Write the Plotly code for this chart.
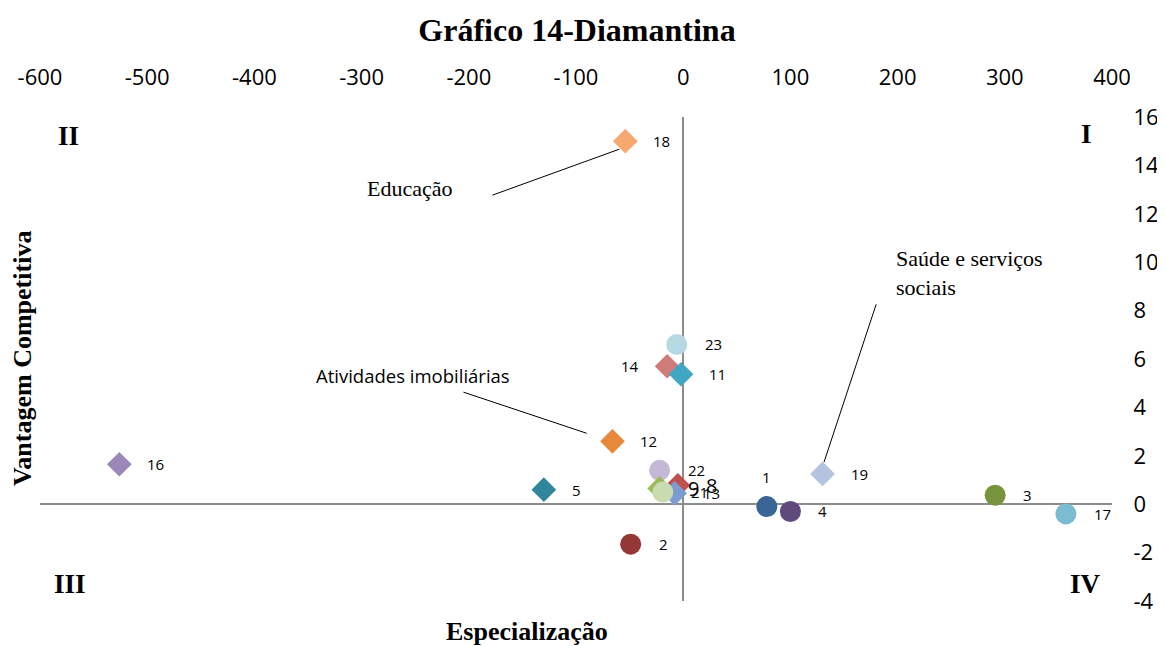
import plotly.graph_objects as go

# ================================ Dados ================================
setores = ['1', '2', '3', '4', '5', '8', '9', '11', '12', '13',
           '14', '16', '17', '18', '19', '21', '22', '23']
especializacao = [78, -49, 291, 100, -130, -5, -22, -2, -66, -8,
                  -15, -526, 357, -54, 130, -19, -22, -6]
vantagem = [-0.1, -1.65, 0.37, -0.3, 0.6, 0.78, 0.65, 5.37, 2.6, 0.45,
            5.7, 1.65, -0.4, 15.0, 1.25, 0.5, 1.4, 6.6]

x_ticks = [-600, -500, -400, -300, -200, -100, 0, 100, 200, 300, 400]
y_ticks = [-4, -2, 0, 2, 4, 6, 8, 10, 12, 14, 16]

# ================================ Estilos ================================
cores = {
    '1': '#3A6597', '2': '#953735', '3': '#77933C', '4': '#604A7B',
    '5': '#31859C', '8': '#C0504D', '9': '#9BBB59', '11': '#3FA7C4',
    '12': '#E8883A', '13': '#7C9CD0', '14': '#D07C7A', '16': '#9B87B8',
    '17': '#7BBCD3', '18': '#F7A870', '19': '#B4C4E0', '21': '#C9DBB0',
    '22': '#C4B8D6', '23': '#B5D8E3',
}
circulos = {'1', '2', '3', '4', '17', '21', '22', '23'}
# ordem de desenho (os últimos ficam por cima)
ordem = ['16', '5', '12', '18', '23', '14', '11', '2', '1', '4', '19', '3',
         '17', '22', '9', '8', '13', '21']
rotulo_esq = {'14'}
rotulo_cima = {'1'}
rotulo_grande = {'8', '9'}

SERIF = 'Liberation Serif'
SANS = 'Open Sans'

# a página tem 8px de margem no body: a figura é reduzida nessa medida
W, H = 1157, 638


def configure_quadrant_chart(fig, title):
    fig.update_layout(
        width=W,
        height=H,
        margin=dict(t=109, b=45, l=32, r=53),
        paper_bgcolor='white',
        plot_bgcolor='white',
        showlegend=False,
        title=dict(text='<b>' + title + '</b>', x=569 / W, xanchor='center',
                   y=1 - 22 / H, yanchor='middle', yref='container',
                   font=dict(family=SERIF, size=32, color='black')),
        xaxis=dict(range=[-600, 400], side='top', tickvals=x_ticks,
                   ticktext=[str(v) for v in x_ticks], automargin=False,
                   showgrid=False, showline=False, zeroline=True,
                   zerolinecolor='#8C8C8C', zerolinewidth=2,
                   ticks='outside', ticklen=22, tickcolor='rgba(0,0,0,0)',
                   tickfont=dict(family=SANS, size=22, color='black')),
        yaxis=dict(range=[-4, 16], side='right', tickvals=y_ticks,
                   ticktext=[str(v) for v in y_ticks], automargin=False,
                   showgrid=False, showline=False, zeroline=True,
                   zerolinecolor='#8C8C8C', zerolinewidth=2,
                   ticks='outside', ticklen=16, tickcolor='rgba(0,0,0,0)',
                   tickfont=dict(family=SANS, size=22, color='black')),
    )
    return fig


def grafico_diamantina():
    fig = go.Figure()
    anots = []
    for s in ordem:
        i = setores.index(s)
        x, y = especializacao[i], vantagem[i]
        circ = s in circulos
        fig.add_trace(go.Scatter(
            x=[x], y=[y], mode='markers', name=s,
            marker=dict(symbol='circle' if circ else 'diamond',
                        size=21 if circ else 19, color=cores[s],
                        line=dict(width=0)),
        ))
        a = dict(x=x, y=y, text=s, showarrow=False,
                 font=dict(family=SANS, size=20 if s in rotulo_grande else 15,
                           color='black'))
        if s in rotulo_cima:
            a.update(xanchor='center', yanchor='middle', yshift=30)
        elif s in rotulo_esq:
            a.update(xanchor='right', yanchor='middle', xshift=-26)
        else:
            a.update(xanchor='left', yanchor='middle', xshift=26)
        anots.append(a)

    # textos explicativos
    nota = dict(family=SERIF, size=22, color='black')
    anots += [
        dict(x=-255, y=13.05, text='Educação', showarrow=False, font=nota),
        dict(x=-252, y=5.3, text='Atividades imobiliárias', showarrow=False,
             font=dict(family=SANS, size=18.5, color='black')),
        dict(x=197, y=9.55, text='Saúde e serviços<br>sociais', showarrow=False,
             xanchor='left', align='left', font=nota),
    ]
    # quadrantes
    quad = dict(family=SERIF, size=27, color='black')
    for txt, qx, qy in [('II', -573, 15.2), ('I', 376.5, 15.3),
                        ('III', -572, -3.3), ('IV', 375.6, -3.3)]:
        anots.append(dict(x=qx, y=qy, text='<b>' + txt + '</b>',
                          showarrow=False, font=quad))
    # títulos dos eixos
    anots += [
        dict(xref='paper', yref='paper', x=0.454, y=-0.064,
             xanchor='center', yanchor='middle',
             text='<b>Especialização</b>', showarrow=False,
             font=dict(family=SERIF, size=26, color='black')),
        dict(xref='paper', yref='paper', x=-0.0168, y=0.502,
             xanchor='center', yanchor='middle',
             text='<b>Vantagem Competitiva</b>', textangle=-90,
             showarrow=False, font=dict(family=SERIF, size=26, color='black')),
    ]

    linhas = [(-178, 12.77, -59.6, 14.67),
              (-205, 4.63, -90, 2.93),
              (180, 8.26, 131.4, 1.74)]
    for x0, y0, x1, y1 in linhas:
        fig.add_shape(type='line', x0=x0, y0=y0, x1=x1, y1=y1,
                      line=dict(color='black', width=1))

    fig.update_layout(annotations=anots)
    return configure_quadrant_chart(fig, 'Gráfico 14-Diamantina')


fig = grafico_diamantina()
fig.write_html('out.html')
